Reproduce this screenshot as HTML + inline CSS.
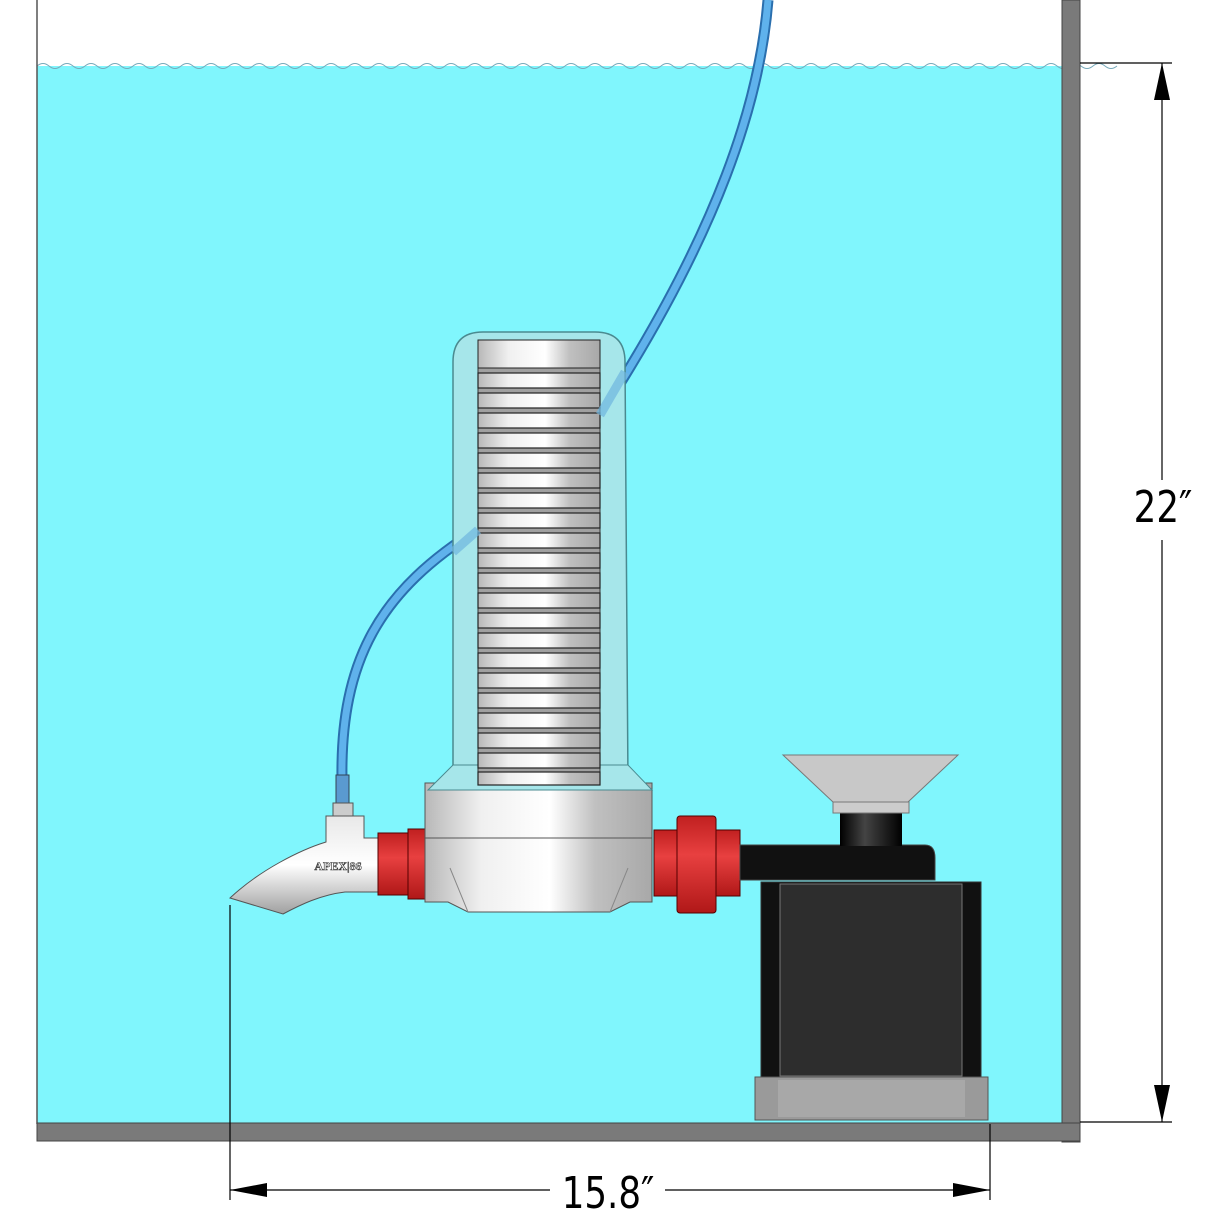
<!DOCTYPE html>
<html><head><meta charset="utf-8"><style>html,body{margin:0;padding:0;background:#fff}svg{display:block}</style></head>
<body>
<svg width="1230" height="1230" viewBox="0 0 1230 1230" xmlns="http://www.w3.org/2000/svg" font-family="Liberation Sans, sans-serif">
<defs>
<linearGradient id="metal" x1="0" x2="1" y1="0" y2="0">
<stop offset="0" stop-color="#b8b8b8"/><stop offset="0.25" stop-color="#f0f0f0"/><stop offset="0.55" stop-color="#ffffff"/><stop offset="0.75" stop-color="#c0c0c0"/><stop offset="1" stop-color="#a8a8a8"/></linearGradient>
<linearGradient id="metalv" x1="0" x2="0" y1="0" y2="1">
<stop offset="0" stop-color="#e8e8e8"/><stop offset="0.5" stop-color="#ffffff"/><stop offset="1" stop-color="#a0a0a0"/></linearGradient>
<linearGradient id="red" x1="0" x2="0" y1="0" y2="1">
<stop offset="0" stop-color="#c02020"/><stop offset="0.4" stop-color="#e84040"/><stop offset="1" stop-color="#b01818"/></linearGradient>
<linearGradient id="neck" x1="0" x2="1"><stop offset="0" stop-color="#000"/><stop offset="0.4" stop-color="#444"/><stop offset="1" stop-color="#000"/></linearGradient>
</defs>
<rect x="37" y="66" width="1025" height="1058" fill="#80f6fd"/>
<path d="M37 66 q6 -5 12 0 t12 0 t12 0 t12 0 t12 0 t12 0 t12 0 t12 0 t12 0 t12 0 t12 0 t12 0 t12 0 t12 0 t12 0 t12 0 t12 0 t12 0 t12 0 t12 0 t12 0 t12 0 t12 0 t12 0 t12 0 t12 0 t12 0 t12 0 t12 0 t12 0 t12 0 t12 0 t12 0 t12 0 t12 0 t12 0 t12 0 t12 0 t12 0 t12 0 t12 0 t12 0 t12 0 t12 0 t12 0 t12 0 t12 0 t12 0 t12 0 t12 0 t12 0 t12 0 t12 0 t12 0 t12 0 t12 0 t12 0 t12 0 t12 0 t12 0 t12 0 t12 0 t12 0 t12 0 t12 0 t12 0 t12 0 t12 0 t12 0 t12 0 t12 0 t12 0 t12 0 t12 0 t12 0 t12 0 t12 0 t12 0 t12 0 t12 0 t12 0 t12 0 t12 0 t12 0 t12 0 t12 0 t12 0 t12 0 t12 0 t12 0" fill="none" stroke="#7ab" stroke-width="1"/>
<line x1="37" y1="0" x2="37" y2="1124" stroke="#555" stroke-width="1.5"/>
<rect x="1062" y="0" width="18" height="1142" fill="#7a7a7a" stroke="#444"/>
<rect x="37" y="1123" width="1043" height="18" fill="#7a7a7a" stroke="#444"/>
<g stroke="#000" stroke-width="1.2" fill="none">
<line x1="1080" y1="63" x2="1172" y2="63"/><line x1="1080" y1="1122" x2="1172" y2="1122"/>
<line x1="1162" y1="63" x2="1162" y2="480"/><line x1="1162" y1="540" x2="1162" y2="1122"/>
<line x1="230" y1="905" x2="230" y2="1200"/><line x1="990" y1="1124" x2="990" y2="1200"/>
<line x1="230" y1="1190" x2="550" y2="1190"/><line x1="665" y1="1190" x2="990" y2="1190"/>
</g>
<polygon points="1162,63 1154,100 1170,100" fill="#000"/>
<polygon points="1162,1122 1154,1085 1170,1085" fill="#000"/>
<polygon points="230,1190 267,1183 267,1197" fill="#000"/>
<polygon points="990,1190 953,1183 953,1197" fill="#000"/>
<text x="1163" y="522" font-size="44" text-anchor="middle" font-family="DejaVu Sans Condensed, Liberation Sans Narrow, sans-serif" transform="translate(1163 0) scale(0.9 1) translate(-1163 0)">22″</text>
<text x="608" y="1208" font-size="44" text-anchor="middle" font-family="DejaVu Sans Condensed, Liberation Sans Narrow, sans-serif" transform="translate(608 0) scale(0.9 1) translate(-608 0)">15.8″</text>
<path d="M768 0 C760 100 720 230 600 415" fill="none" stroke="#2a6fae" stroke-width="11"/>
<path d="M768 0 C760 100 720 230 600 415" fill="none" stroke="#5fb2ec" stroke-width="7"/>
<path d="M480 528 C380 590 340 660 342 780" fill="none" stroke="#2a6fae" stroke-width="11"/>
<path d="M480 528 C380 590 340 660 342 780" fill="none" stroke="#5fb2ec" stroke-width="7"/>
<rect x="336" y="775" width="13" height="30" fill="#5a9ad0" stroke="#345"/>
<rect x="333" y="803" width="20" height="14" fill="#ccc" stroke="#555"/>
<path d="M326 816 L364 816 L364 838 L385 838 L385 892 L345 892 C320 895 300 905 283 914 L230 898 C260 870 300 850 326 842 Z" fill="url(#metalv)" stroke="#555" stroke-width="1"/>
<text x="338" y="870" font-size="12" text-anchor="middle" fill="#fff" stroke="#333" stroke-width="0.6" font-family="Liberation Serif, serif" font-weight="bold">APEX|86</text>
<rect x="378" y="833" width="32" height="62" fill="url(#red)" stroke="#500"/>
<rect x="408" y="829" width="18" height="70" fill="url(#red)" stroke="#500"/>
<rect x="425" y="783" width="227" height="55" fill="url(#metal)" stroke="#555"/>
<path d="M425 838 L652 838 L652 902 L630 902 L610 912 L468 912 L448 902 L425 902 Z" fill="url(#metal)" stroke="#555"/>
<path d="M450 868 L468 912 M628 868 L610 912" stroke="#888" fill="none"/>
<path d="M453 362 Q453 332 483 332 L595 332 Q625 332 625 362 L628 783 L453 783 Z" fill="#a6e6ea" stroke="#4a8a90" stroke-width="1.5"/>
<path d="M428 790 L453 765 L628 765 L652 790 Z" fill="#a6e6ea" stroke="#4a8a90"/>
<rect x="478" y="340" width="122" height="445" fill="#a0a0a0" stroke="#333"/>
<rect x="478" y="340" width="122" height="28" fill="url(#metal)" stroke="#222"/>
<g fill="url(#metal)" stroke="#222" stroke-width="1.2">
<rect x="478" y="373" width="122" height="15"/><rect x="478" y="393" width="122" height="15"/><rect x="478" y="413" width="122" height="15"/><rect x="478" y="433" width="122" height="15"/><rect x="478" y="453" width="122" height="15"/><rect x="478" y="473" width="122" height="15"/><rect x="478" y="493" width="122" height="15"/><rect x="478" y="513" width="122" height="15"/><rect x="478" y="533" width="122" height="15"/><rect x="478" y="553" width="122" height="15"/><rect x="478" y="573" width="122" height="15"/><rect x="478" y="593" width="122" height="15"/><rect x="478" y="613" width="122" height="15"/><rect x="478" y="633" width="122" height="15"/><rect x="478" y="653" width="122" height="15"/><rect x="478" y="673" width="122" height="15"/><rect x="478" y="693" width="122" height="15"/><rect x="478" y="713" width="122" height="15"/><rect x="478" y="733" width="122" height="15"/><rect x="478" y="753" width="122" height="15"/><rect x="478" y="772" width="122" height="13"/>
</g>
<path d="M625 372 L600 415" stroke="#6fb6e0" stroke-width="9" opacity="0.7"/>
<path d="M478 530 L453 552" stroke="#6fb6e0" stroke-width="9" opacity="0.7"/>
<rect x="654" y="830" width="86" height="66" fill="url(#red)" stroke="#500"/>
<rect x="677" y="816" width="39" height="97" rx="3" fill="url(#red)" stroke="#500"/>
<path d="M740 845 L925 845 Q935 845 935 858 L935 880 L740 880 Z" fill="#111" stroke="#444"/>
<rect x="840" y="813" width="62" height="33" fill="url(#neck)"/>
<rect x="833" y="800" width="76" height="13" fill="#ccc" stroke="#777"/>
<polygon points="783,755 958,755 908,802 833,802" fill="#c8c8c8" stroke="#777"/>
<rect x="761" y="882" width="220" height="196" fill="#111" stroke="#333"/>
<rect x="780" y="884" width="182" height="192" fill="#2d2d2d" stroke="#777" stroke-width="1"/>
<rect x="755" y="1077" width="233" height="43" fill="#9a9a9a" stroke="#555"/>
<rect x="778" y="1080" width="187" height="37" fill="#a8a8a8"/>
</svg>
</body></html>
